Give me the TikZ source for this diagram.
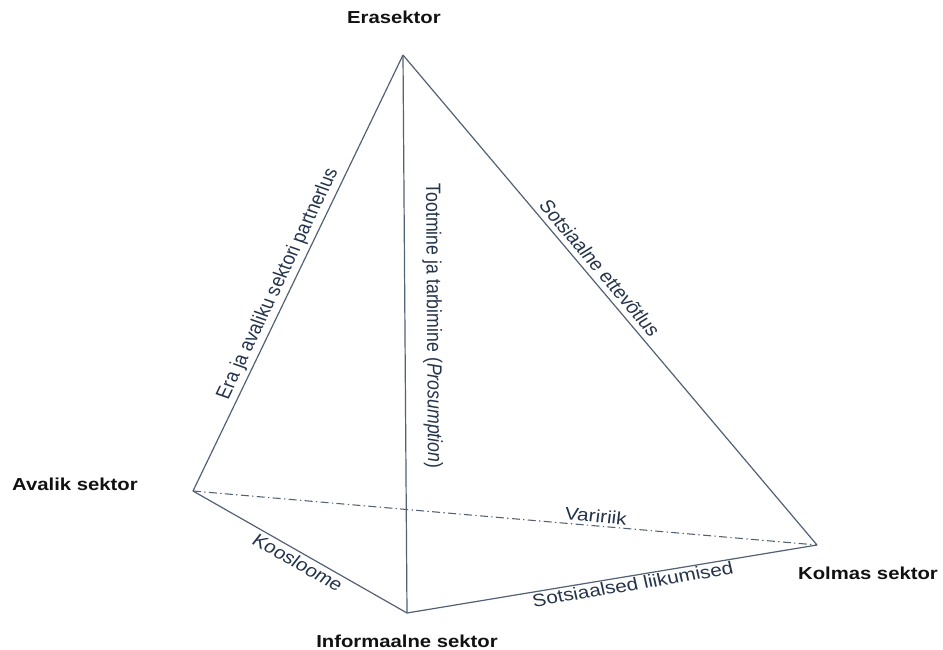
\documentclass[tikz,border=0pt]{standalone}
\usepackage{fontspec}
\setmainfont{Liberation Sans}
\definecolor{edgec}{HTML}{526175}
\definecolor{labc}{HTML}{24344A}
\definecolor{vtxc}{HTML}{111111}
\begin{document}
\begin{tikzpicture}[x=0.75pt,y=-0.75pt,
  edge/.style={draw=edgec,line width=0.9pt},
  dashdotedge/.style={draw=edgec,line width=0.8pt,dash pattern=on 6pt off 2.5pt on 1pt off 2.5pt},
  elab/.style={text=labc,font=\fontsize{13.3}{15}\selectfont,inner sep=2pt},
  vlab/.style={text=vtxc,font=\fontsize{13}{15}\selectfont\bfseries,inner sep=0pt,xscale=1.17}]
\useasboundingbox (0,0) rectangle (943,650);
\coordinate (E) at (403,55);
\coordinate (A) at (193,491);
\coordinate (I) at (407,613);
\coordinate (K) at (817,545);
\draw[dashdotedge] (A) -- node[elab,pos=0.644,cm={1.1641,-0.1007,0.1178,0.9949,(0,0)},anchor=south] {Variriik} (K);
\draw[edge] (A) -- node[elab,pos=0.465,cm={0.4453,0.9248,-1.0820,0.3806,(0,0)},anchor=south] {Era ja avaliku sektori partnerlus} (E);
\draw[edge] (E) -- node[elab,pos=0.486,cm={0.00717,-1.0,1.17,0.00613,(0,0)},anchor=south,inner ysep=11pt] {Tootmine ja tarbimine (\textit{Prosumption})} (I);
\draw[edge] (E) -- node[elab,pos=0.449,cm={0.6849,-0.8107,0.9485,0.5854,(0,0)},anchor=south,inner ysep=3.5pt] {Sotsiaalne ettevõtlus} (K);
\draw[edge] (A) -- node[elab,pos=0.52,cm={0.9733,-0.5548,0.6491,0.8319,(0,0)},anchor=north] {Koosloome} (I);
\draw[edge] (I) -- node[elab,pos=0.546,cm={1.1486,0.1905,-0.2229,0.9817,(0,0)},anchor=north,inner ysep=1pt] {Sotsiaalsed liikumised} (K);
\node[vlab] (ne) at (394,17) {Erasektor};
\node[vlab] (na) at (75,484) {Avalik sektor};
\node[vlab] (nk) at (868,573) {Kolmas sektor};
\node[vlab] (ni) at (407,641) {Informaalne sektor};
\end{tikzpicture}
\end{document}
